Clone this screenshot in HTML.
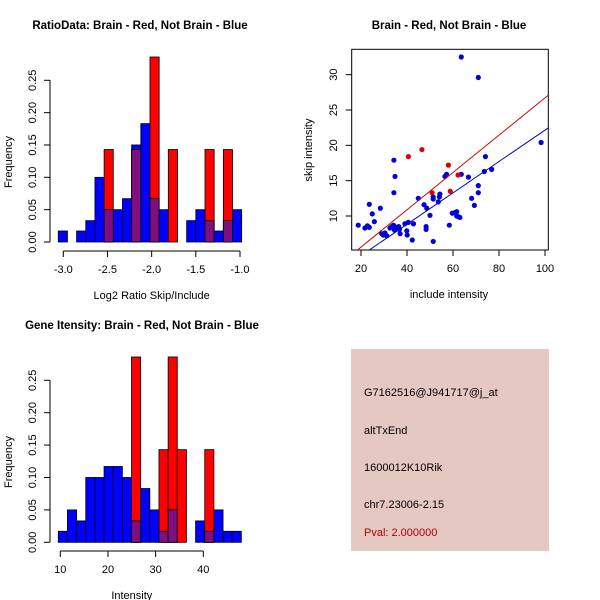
<!DOCTYPE html>
<html><head><meta charset="utf-8"><style>
body{margin:0;background:#fff}
svg{display:block;font-family:"Liberation Sans",sans-serif}
</style></head><body>
<svg id="c" width="600" height="600" xmlns="http://www.w3.org/2000/svg">
<rect width="600" height="600" fill="#fff"/>
<text x="140" y="29" font-size="11.5" font-weight="bold" text-anchor="middle">RatioData: Brain - Red, Not Brain - Blue</text>
<text x="449" y="29" font-size="11.5" font-weight="bold" text-anchor="middle">Brain - Red, Not Brain - Blue</text>
<text x="142" y="329" font-size="11.5" font-weight="bold" text-anchor="middle">Gene Itensity: Brain - Red, Not Brain - Blue</text>
<g>
<rect x="351" y="349" width="198" height="202" fill="#e6c8c2"/>
<text x="364" y="396" font-size="11">G7162516@J941717@j_at</text>
<text x="364" y="434" font-size="11">altTxEnd</text>
<text x="364" y="471" font-size="11">1600012K10Rik</text>
<text x="364" y="508" font-size="11">chr7.23006-2.15</text>
<text x="364" y="536" font-size="11" fill="#b00000">Pval: 2.000000</text>
</g>
</svg>
<script>
// Ratio histogram data
const ratioBlue=[0.017,0,0.017,0.033,0.10,0.05,0.05,0.067,0.15,0.183,0.067,0.05,0,0,0.033,0.05,0.033,0.017,0.033,0.05];
const ratioRed=[0,0,0,0,0,0.143,0,0,0.143,0,0.286,0,0.143,0,0,0,0.143,0,0.143,0];
const ratioTicks=[-3.0,-2.5,-2.0,-1.5,-1.0];
const ratioBreakStart=-3.057, ratioBinW=0.1038;
// Intensity histogram data
const intBlue=[0.017,0.05,0.033,0.10,0.10,0.117,0.117,0.10,0.033,0.083,0.05,0.017,0.05,0,0,0.033,0.017,0.05,0.017,0.017];
const intRed=[0,0,0,0,0,0,0,0,0.286,0,0,0.143,0.286,0.143,0,0,0.143,0,0,0];
const intTicks=[10,20,30,40];
const intBreakStart=9.58, intBinW=1.92;
const freqTicks=[0,0.05,0.10,0.15,0.20,0.25];
// Scatter data
const blueX=[18.8,21.7,22.8,23.6,23.6,24.9,25.8,28.4,29.0,29.7,30.4,31.2,32.6,33.3,34.1,34.3,34.3,34.8,34.6,35.5,36.4,37.0,36.7,39.1,39.9,40.1,40.6,42.8,42.3,44.9,47.4,48.6,48.3,48.3,50.0,51.4,51.4,51.4,54.1,54.3,53.6,56.5,57.2,58.4,59.7,60.9,61.6,61.6,62.3,63.0,63.6,63.6,66.7,68.1,69.3,71.0,71.0,71.0,73.6,74.1,76.8,98.3];
const blueY=[8.7,8.3,8.6,8.4,11.65,10.3,9.2,11.1,7.5,7.3,7.6,7.2,8.3,8.5,8.7,17.9,13.3,15.6,8.0,8.4,8.5,7.5,8.1,8.9,7.9,7.3,9.1,8.9,6.6,12.5,11.6,11.1,8.5,8.1,10.1,12.7,12.4,6.4,12.7,13.1,12.0,15.6,15.9,8.7,10.4,10.5,10.0,10.6,9.9,9.8,15.9,32.5,15.5,12.5,11.5,29.6,14.3,13.3,16.3,18.4,16.6,20.4];
const redX=[40.6,46.5,50.9,58.0,58.8,62.2];
const redY=[18.4,19.4,13.3,17.2,13.5,15.8];
const fitRed=[0.32,0.264], fitBlue=[-0.05,0.222];
const scXTicks=[20,40,60,80,100], scYTicks=[10,15,20,25,30];

const S='http://www.w3.org/2000/svg', svg=document.getElementById('c');
function mk(t,a,p){const e=document.createElementNS(S,t);for(const k in a)e.setAttribute(k,a[k]);(p||svg).appendChild(e);return e;}

function hist(blue,red,start,bw,ticks,xs,ys,yl,xlab,axY,name){
  const g=mk('g',{});
  
  
  const y0=ys(0);
  blue.forEach((v,i)=>{
    const x1=xs(start+i*bw),x2=xs(start+(i+1)*bw);
    const r=red[i], m=Math.min(v,r);
    if(v>0){const b=mk('rect',{x:x1,y:ys(v),width:x2-x1,height:y0-ys(v),fill:'#0000ff',stroke:'#000','stroke-width':0.8},g);
      }
    if(r>0){const b=mk('rect',{x:x1,y:ys(r),width:x2-x1,height:y0-ys(r),fill:'#ff0000',stroke:'#000','stroke-width':0.8},g);
      }
    if(m>0){const b=mk('rect',{x:x1,y:ys(m),width:x2-x1,height:y0-ys(m),fill:'#7f0f7f',stroke:'#000','stroke-width':0.8},g);
      }
  });
  mk('line',{x1:50,x2:50,y1:ys(0),y2:ys(0.25),stroke:'#000'},g);
  freqTicks.forEach(t=>{mk('line',{x1:44,x2:50,y1:ys(t),y2:ys(t),stroke:'#000'},g);
    const tx=mk('text',{x:0,y:0,'font-size':11,'text-anchor':'middle',transform:`translate(36,${ys(t)}) rotate(-90)`},g);tx.textContent=t.toFixed(2);});
  const yt=mk('text',{x:0,y:0,'font-size':11,'text-anchor':'middle',transform:`translate(12,${yl}) rotate(-90)`},g);yt.textContent='Frequency';
  mk('line',{x1:xs(ticks[0]),x2:xs(ticks[ticks.length-1]),y1:axY,y2:axY,stroke:'#000'},g);
  ticks.forEach(t=>{mk('line',{x1:xs(t),x2:xs(t),y1:axY,y2:axY+6,stroke:'#000'},g);
    const tx=mk('text',{x:xs(t),y:axY+22,'font-size':11,'text-anchor':'middle'},g);tx.textContent=t.toFixed(ticks[0]<0?1:0);});
  const xt=mk('text',{x:xs((ticks[0]+ticks[ticks.length-1])/2),y:axY+48,'font-size':11,'text-anchor':'middle'},g);xt.textContent=xlab;
}
hist(ratioBlue,ratioRed,ratioBreakStart,ratioBinW,ratioTicks,v=>63.3+(v+3)*88.35,v=>242-v*646.8,162,'Log2 Ratio Skip/Include',251,'ratio-histogram');
hist(intBlue,intRed,intBreakStart,intBinW,intTicks,v=>60.3+(v-10)*4.767,v=>542.3-v*648,462,'Intensity',551,'intensity-histogram');

const sx=v=>361+(v-20)*2.3, sy=v=>216-(v-10)*7.067;
const sg=mk('g',{});


mk('clipPath',{id:'cp'},sg);
mk('rect',{x:351.7,y:49.3,width:196.6,height:200.7},document.getElementById('cp'));
mk('rect',{x:351.7,y:49.3,width:196.6,height:200.7,fill:'none',stroke:'#000'},sg);
const pg=mk('g',{'clip-path':'url(#cp)'},sg);
blueX.forEach((x,i)=>{const c=mk('circle',{cx:sx(x),cy:sy(blueY[i]),r:2.6,fill:'#0000dd'},pg);
  });
redX.forEach((x,i)=>{const c=mk('circle',{cx:sx(x),cy:sy(redY[i]),r:2.6,fill:'#dd0000'},pg);
  });
[[fitRed,'#cc0000','red-fit-line'],[fitBlue,'#0000cc','blue-fit-line']].forEach(([f,col,n])=>{
  const l=mk('line',{x1:sx(10),y1:sy(f[0]+f[1]*10),x2:sx(110),y2:sy(f[0]+f[1]*110),stroke:col,'stroke-width':1},pg);
  });
scXTicks.forEach(t=>{mk('line',{x1:sx(t),x2:sx(t),y1:250,y2:256,stroke:'#000'},sg);
  const tx=mk('text',{x:sx(t),y:272,'font-size':11,'text-anchor':'middle'},sg);tx.textContent=t;});
scYTicks.forEach(t=>{mk('line',{x1:345.7,x2:351.7,y1:sy(t),y2:sy(t),stroke:'#000'},sg);
  const tx=mk('text',{x:0,y:0,'font-size':11,'text-anchor':'middle',transform:`translate(337,${sy(t)}) rotate(-90)`},sg);tx.textContent=t;});
const sxl=mk('text',{x:449,y:298,'font-size':11,'text-anchor':'middle'},sg);sxl.textContent='include intensity';
const syl=mk('text',{x:0,y:0,'font-size':11,'text-anchor':'middle',transform:'translate(312,150) rotate(-90)'},sg);syl.textContent='skip intensity';
</script>
</body></html>
